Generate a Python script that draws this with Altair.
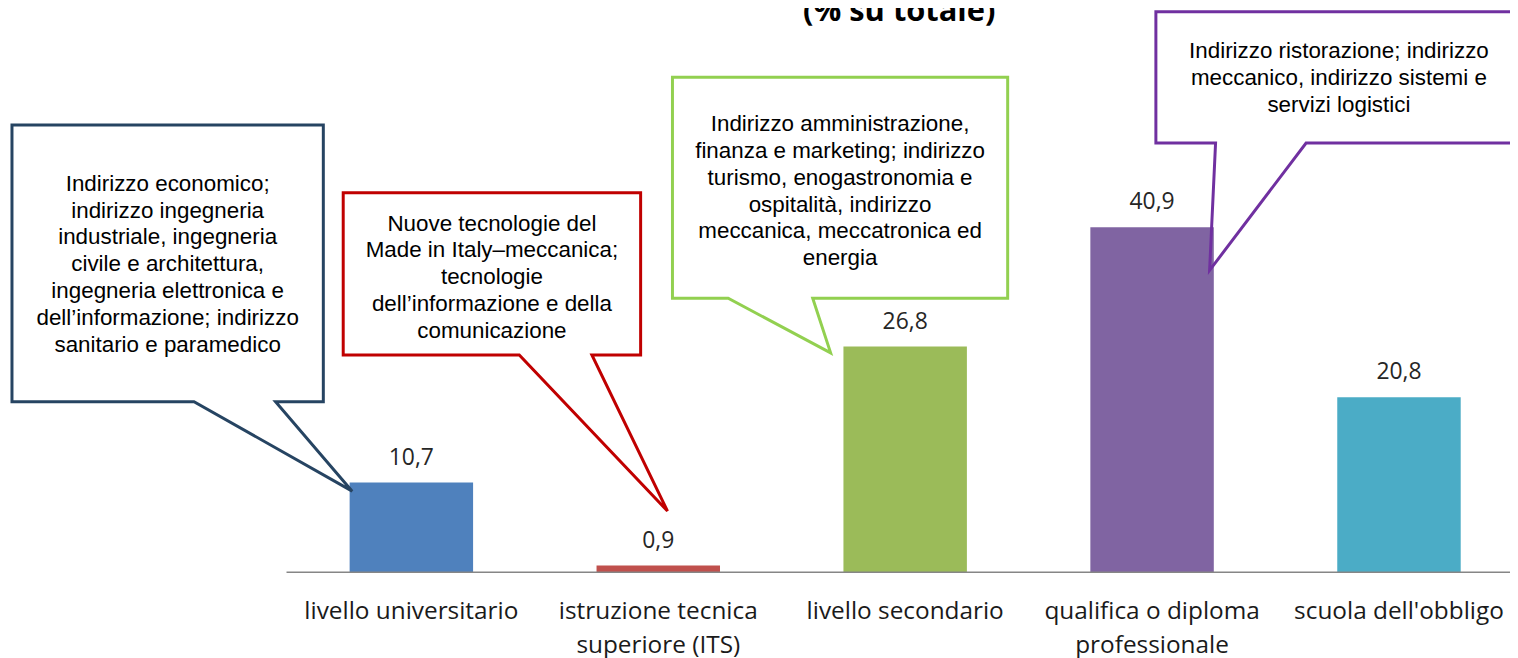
import altair as alt
import pandas as pd

# ---------------- data ----------------
categories = [
    "livello universitario",
    "istruzione tecnica superiore (ITS)",
    "livello secondario",
    "qualifica o diploma professionale",
    "scuola dell'obbligo",
]
category_labels = [
    "livello universitario",
    "istruzione tecnica\nsuperiore (ITS)",
    "livello secondario",
    "qualifica o diploma\nprofessionale",
    "scuola dell'obbligo",
]
values = [10.7, 0.9, 26.8, 40.9, 20.8]
bar_colors = ["#4F81BD", "#C0504D", "#9BBB59", "#8064A2", "#4BACC6"]

title_text = "(% su totale)"

callout_ids = ["c1", "c2", "c3", "c4"]
callout_texts = [
    "Indirizzo economico;\nindirizzo ingegneria\nindustriale, ingegneria\ncivile e architettura,\ningegneria elettronica e\ndell\u2019informazione; indirizzo\nsanitario e paramedico",
    "Nuove tecnologie del\nMade in Italy\u2013meccanica;\ntecnologie\ndell\u2019informazione e della\ncomunicazione",
    "Indirizzo amministrazione,\nfinanza e marketing; indirizzo\nturismo, enogastronomia e\nospitalit\u00e0, indirizzo\nmeccanica, meccatronica ed\nenergia",
    "Indirizzo ristorazione; indirizzo\nmeccanico, indirizzo sistemi e\nservizi logistici",
]
callout_colors = ["#264462", "#C00000", "#92D050", "#7030A0"]

# annotation geometry (pixel space of the plot area)
callout_boxes = [(4, 116, 317, 394), (337, 184, 636, 347), (668, 68, 1005, 290), (1154, 2, 1540, 134)]
callout_pointers = [(187, 269, 346, 484), (514, 587, 663, 504), (724, 809, 827, 345), (1214, 1305, 1208, 262)]
callout_text_x = [160.5, 486.5, 836.5, 1338]
callout_text_y = [175, 215, 115, 42]   # middle of first line

W, H = 1510, 650

# ---------------- tables ----------------
bars_df = pd.DataFrame({"categoria": categories, "valore": values, "etichetta": category_labels})

rows = []
for cid, (x0, y0, x1, y1), (bl, br, tx, ty) in zip(callout_ids, callout_boxes, callout_pointers):
    pts = [(x0, y0), (x1, y0), (x1, y1), (br, y1), (tx, ty), (bl, y1), (x0, y1), (x0, y0), (x1, y0)]
    for i, (px, py) in enumerate(pts):
        rows.append({"id": cid, "ord": i, "px": px, "py": py})
shape_df = pd.DataFrame(rows)
note_df = pd.DataFrame({"id": callout_ids, "testo": callout_texts, "px": callout_text_x, "py": callout_text_y})

# ---------------- scales ----------------
def band():
    return alt.Scale(domain=categories, range=[281.4, 1522.5], paddingInner=0.5, paddingOuter=0.25, round=False)

def yval():
    return alt.Scale(domain=[0, 566.3 / 8.5], range=[566.3, 0], nice=False, zero=True)

pxs = alt.Scale(domain=[0, W], range=[0, W], nice=False, zero=False)
pys = alt.Scale(domain=[0, H], range=[0, H], nice=False, zero=False)

base = alt.Chart(bars_df)

bars = base.mark_bar().encode(
    x=alt.X("categoria:N", scale=band(), axis=None, sort=categories),
    y=alt.Y("valore:Q", scale=yval(), axis=None),
    color=alt.Color("categoria:N", scale=alt.Scale(domain=categories, range=bar_colors), legend=None),
)

value_labels = base.transform_calculate(
    lab="replace(format(datum.valore, '.1f'), '.', ',')"
).mark_text(font="Open Sans", fontSize=23, color="#262626", baseline="alphabetic", dy=-18).encode(
    x=alt.X("categoria:N", scale=band(), axis=None, sort=categories),
    y=alt.Y("valore:Q", scale=yval(), axis=None),
    text="lab:N",
)

cat_labels = base.mark_text(
    font="Open Sans", fontSize=24.5, color="#1a1a1a", baseline="alphabetic", lineBreak="\n", lineHeight=34
).encode(
    x=alt.X("categoria:N", scale=band(), axis=None, sort=categories),
    y=alt.value(613),
    text="etichetta:N",
)

axis_line = alt.Chart(pd.DataFrame({"a": [0]})).mark_rule(color="#868686", strokeWidth=1.5).encode(
    x=alt.value(280), x2=alt.value(W), y=alt.value(565.5)
)

shapes = alt.Chart(shape_df).mark_line(strokeWidth=3, strokeJoin="miter").encode(
    x=alt.X("px:Q", scale=pxs, axis=None),
    y=alt.Y("py:Q", scale=pys, axis=None),
    order="ord:Q",
    detail="id:N",
    color=alt.Color("id:N", scale=alt.Scale(domain=callout_ids, range=callout_colors), legend=None),
)

notes = alt.Chart(note_df).mark_text(
    font="Liberation Sans", fontSize=22.5, color="#000000", baseline="middle", align="center",
    lineBreak="\n", lineHeight=27,
).encode(
    x=alt.X("px:Q", scale=pxs, axis=None),
    y=alt.Y("py:Q", scale=pys, axis=None),
    text="testo:N",
)

title = alt.Chart(pd.DataFrame({"t": [title_text]})).mark_text(
    font="Open Sans", fontSize=31, fontWeight="bold", color="#000000", baseline="alphabetic", align="center"
).encode(x=alt.value(896), y=alt.value(11), text="t:N")

chart = alt.layer(bars, value_labels, cat_labels, axis_line, shapes, notes, title).resolve_scale(
    x="independent", y="independent", color="independent"
).properties(
    width=W, height=H, padding=0, autosize=alt.AutoSizeParams(type="none")
).configure(background="#ffffff").configure_view(stroke=None)

chart.save("out.html", embed_options={"renderer": "svg", "actions": False})
